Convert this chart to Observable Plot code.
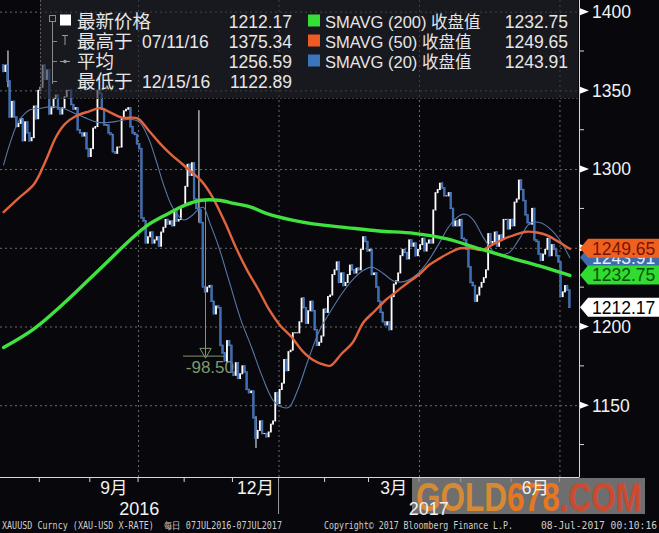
<!DOCTYPE html>
<html><head><meta charset="utf-8">
<script src="https://cdn.jsdelivr.net/npm/d3@7"></script>
<script src="https://cdn.jsdelivr.net/npm/@observablehq/plot@0.6"></script>
<style>
html,body{margin:0;padding:0;background:#07070c;}
#chart{width:659px;height:533px;overflow:hidden;}
</style></head>
<body><div id="chart"></div>
<script>
// ---------- DATA ----------
const startDate = "2016-07-07";
const endDate = "2017-07-07";
const holidays = ["2016-12-26", "2017-01-02", "2017-04-14"];
const firstOpen = 1366;
const jul2016 = [1362,1366,1356,1333,1343,1333,1327,1329,1332,1318,1330,1323,1318,1320,1340,1332,1350];
const aug2016 = [1352,1366,1357,1363,1335,1339,1345,1347,1338,1335,1339,1346,1350,1350,1341,1338,1339,1325,1323,1321,1323,1313,1308];
const sep2016 = [1313,1326,1327,1350,1348,1338,1328,1328,1323,1322,1311,1310,1314,1314,1332,1337,1338,1339,1327,1323,1322,1316];
const oct2016 = [1313,1269,1267,1253,1257,1260,1253,1255,1257,1251,1260,1263,1268,1265,1267,1264,1274,1267,1268,1276,1277];
const nov2016 = [1289,1303,1296,1304,1281,1275,1274,1266,1225,1222,1225,1226,1216,1208,1213,1212,1188,1183,1178,1191,1188,1171];
const dec2016 = [1169,1177,1167,1170,1175,1171,1160,1158,1159,1142,1129,1134,1140,1132,1132,1130,1133,1138,1140,1158,1151];
const jan2017 = [1160,1164,1179,1172,1184,1185,1196,1196,1196,1203,1218,1212,1202,1210,1216,1210,1198,1188,1190,1194,1211];
const feb2017 = [1209,1219,1220,1233,1236,1241,1228,1234,1226,1228,1233,1239,1236,1234,1237,1236,1249,1257,1254,1248];
const mar2017 = [1249,1233,1234,1225,1216,1209,1203,1201,1203,1198,1219,1227,1229,1234,1245,1249,1247,1243,1255,1251,1253,1245,1249];
const apr2017 = [1252,1256,1248,1253,1255,1253,1274,1285,1287,1291,1288,1283,1283,1285,1275,1264,1267,1264,1268];
const may2017 = [1256,1255,1249,1238,1228,1226,1216,1220,1225,1228,1231,1236,1259,1253,1254,1260,1251,1258,1256,1268,1268,1262,1268];
const jun2017 = [1264,1279,1281,1293,1287,1280,1271,1266,1265,1275,1255,1254,1246,1242,1246,1249,1256,1245,1252,1249,1245,1241];
const jul2017 = [1219,1222,1226,1223,1212.17];

const wicks = [
  {date: "2016-07-11", high: 1375.34, low: 1352},
  {date: "2016-11-09", high: 1337.4, low: 1266},
  {date: "2016-12-15", high: 1143, low: 1122.89}
];

const sma200 = [["2016-07-07",1187],["2016-07-27",1199],["2016-08-17",1217],["2016-09-07",1237],["2016-09-28",1257],["2016-10-07",1265],["2016-10-20",1272],["2016-10-31",1277],["2016-11-10",1280.5],["2016-11-22",1280.5],["2016-12-01",1278.5],["2016-12-13",1276],["2016-12-22",1272],["2017-01-10",1268],["2017-01-24",1265.5],["2017-02-15",1263],["2017-03-07",1261],["2017-03-29",1259.5],["2017-04-20",1256],["2017-05-11",1249.6],["2017-06-01",1243.5],["2017-06-21",1238],["2017-07-07",1232.75]];
const sma50 = [["2016-07-07",1273],["2016-07-18",1282],["2016-07-27",1291],["2016-08-03",1305],["2016-08-10",1321],["2016-08-16",1329],["2016-08-23",1334],["2016-08-31",1337],["2016-09-07",1339],["2016-09-14",1336],["2016-09-21",1333],["2016-09-30",1332.5],["2016-10-07",1325],["2016-10-14",1317],["2016-10-21",1310],["2016-10-28",1304],["2016-11-04",1298],["2016-11-10",1293],["2016-11-17",1283],["2016-11-25",1266],["2016-12-02",1250],["2016-12-09",1236],["2016-12-16",1224],["2016-12-23",1211],["2017-01-03",1201],["2017-01-10",1194],["2017-01-17",1185],["2017-01-24",1179],["2017-01-31",1176],["2017-02-03",1175.5],["2017-02-10",1183],["2017-02-17",1190],["2017-02-24",1203],["2017-03-03",1210],["2017-03-10",1217],["2017-03-17",1222.5],["2017-03-24",1228],["2017-03-31",1233],["2017-04-07",1239.5],["2017-04-13",1243],["2017-04-21",1247],["2017-04-28",1250],["2017-05-05",1250],["2017-05-12",1249],["2017-05-19",1252.5],["2017-05-26",1256],["2017-06-02",1258.5],["2017-06-09",1260.5],["2017-06-16",1260],["2017-06-23",1258],["2017-06-30",1254],["2017-07-07",1249.65]];
const sma20 = [["2016-07-07",1303],["2016-07-12",1317],["2016-07-18",1331],["2016-07-25",1338],["2016-08-01",1339],["2016-08-08",1340],["2016-08-15",1339],["2016-08-22",1336],["2016-08-29",1333],["2016-09-06",1330],["2016-09-13",1330],["2016-09-20",1331],["2016-09-27",1332],["2016-10-03",1330],["2016-10-07",1320],["2016-10-12",1308],["2016-10-18",1290],["2016-10-24",1276],["2016-10-31",1268],["2016-11-04",1271],["2016-11-09",1275],["2016-11-11",1276],["2016-11-16",1266],["2016-11-22",1251],["2016-11-29",1228],["2016-12-06",1205],["2016-12-13",1187],["2016-12-20",1168],["2016-12-28",1153],["2017-01-04",1149],["2017-01-09",1149],["2017-01-13",1160],["2017-01-20",1180],["2017-01-27",1198],["2017-02-03",1210],["2017-02-10",1221],["2017-02-17",1230],["2017-02-24",1236],["2017-03-02",1238],["2017-03-09",1234],["2017-03-16",1229],["2017-03-23",1229],["2017-03-30",1233],["2017-04-06",1241],["2017-04-13",1252],["2017-04-21",1264],["2017-04-28",1271],["2017-05-03",1271.5],["2017-05-08",1268],["2017-05-15",1256],["2017-05-22",1247],["2017-05-30",1247],["2017-06-06",1256],["2017-06-13",1266],["2017-06-20",1266],["2017-06-27",1261],["2017-07-03",1254],["2017-07-07",1243.91]];

const measure = {date: "2016-11-14", from: 1280, to: 1181.5, spanStart: "2016-10-31", spanEnd: "2016-11-28", textDate: "2016-11-01"};

const yTicks = [1150, 1200, 1250, 1300, 1350, 1400];
const yMinorTicks = [1125, 1175, 1225, 1275, 1325, 1375];
const gridLevels = [1150, 1200, 1250, 1300, 1350, 1400];
const quarterMonths = ["2016-10", "2017-01", "2017-04", "2017-07"];
const labelMonths = ["2016-09", "2016-12", "2017-03", "2017-06"];
const monthLabels = ["9月", "12月", "3月", "6月"];
const yearLabels = ["2016", "2017"];

const statLabels = ["最新价格", "最高于", "平均", "最低于"];
const statDates = ["", "07/11/16", "", "12/15/16"];
const statValues = ["1212.17", "1375.34", "1256.59", "1122.89"];
const maLabels = ["SMAVG (200) 收盘值", "SMAVG (50) 收盘值", "SMAVG (20) 收盘值"];
const maValues = ["1232.75", "1249.65", "1243.91"];
const maColors = ["#35df35", "#ee5a24", "#3b76bd"];

const tagValues = [1243.91, 1249.65, 1232.75, 1212.17];
const tagFills = ["#3a6cae", "#f0601f", "#2fdc2f", "#ffffff"];
const tagTextColors = ["#e8eef8", "#7a1405", "#0b4f0b", "#000000"];

const footerTexts = ["XAUUSD Curncy (XAU-USD X-RATE)  每日 07JUL2016-07JUL2017", "Copyright© 2017 Bloomberg Finance L.P.", "08-Jul-2017 00:10:16"];
const watermark = ["GOLD", "678", ".COM"];

// ---------- BUILD ----------
const fmt = d3.utcFormat("%Y-%m-%d");
const fmtM = d3.utcFormat("%Y-%m");
const days = d3.utcDay.range(new Date(startDate), d3.utcDay.offset(new Date(endDate), 1))
  .filter(d => d.getUTCDay() % 6 !== 0 && !holidays.includes(fmt(d)));
const closes = [].concat(jul2016, aug2016, sep2016, oct2016, nov2016, dec2016, jan2017, feb2017, mar2017, apr2017, may2017, jun2017, jul2017);
const idxOf = new Map(days.map((d, i) => [fmt(d), i]));
const candles = days.map((d, i) => ({i, open: i ? closes[i - 1] : firstOpen, close: closes[i]})).filter(d => d.close != null);
const up = candles.filter(d => d.close >= d.open);
const down = candles.filter(d => d.close < d.open);

const monthFirst = d3.rollup(days.map((d, i) => [fmtM(d), i]), v => d3.min(v, e => e[1]), e => e[0]);
const monthLast = d3.rollup(days.map((d, i) => [fmtM(d), i]), v => d3.max(v, e => e[1]), e => e[0]);
const monthBounds = [...monthFirst.entries()].filter(([m]) => m !== fmtM(new Date(startDate))).map(([m, i]) => i - 0.5);
const quarterBounds = quarterMonths.map(m => monthFirst.get(m) - 0.5);

const ma = arr => arr.map(([d, v]) => ({i: idxOf.get(d), v}));
const font = "'Liberation Sans', 'Noto Sans CJK SC', sans-serif";

const plot = Plot.plot({
  width: 659, height: 533,
  marginTop: 0, marginLeft: 0, marginRight: 80, marginBottom: 56,
  style: {background: "#07070c", fontFamily: font, overflow: "hidden"},
  x: {domain: [-1.41, 262.4], axis: null},
  y: {domain: [1104.4, 1407.4], axis: null},
  marks: [
    Plot.ruleY(gridLevels, {stroke: "#6c6c6c", strokeDasharray: "2,3", strokeWidth: 1}),
    Plot.ruleX(quarterBounds, {stroke: "#6c6c6c", strokeDasharray: "2,3", strokeWidth: 1}),
    Plot.ruleX([measure], {x: d => idxOf.get(d.date), y1: "from", y2: "to", stroke: "#7f9a6c", strokeWidth: 1}),
    Plot.ruleY([measure], {y: "to", x1: d => idxOf.get(d.spanStart), x2: d => idxOf.get(d.spanEnd), stroke: "#7f9a6c", strokeWidth: 1}),
    Plot.dot([measure], {x: d => idxOf.get(d.date), y: "to", symbol: "triangle", rotate: 180, r: 4.2, dy: -4.5, stroke: "#7f9a6c", fill: "none", strokeWidth: 1}),
    Plot.text([measure], {x: d => idxOf.get(d.textDate), y: "to", text: d => (d.to - d.from).toFixed(2), textAnchor: "start", dy: 11, fill: "#7f9a6c", fontSize: 17}),
    Plot.ruleX(wicks, {x: d => idxOf.get(d.date), y1: "low", y2: "high", stroke: "#ffffff", strokeWidth: 1}),
    Plot.rect(down, {x1: d => d.i - 0.42, x2: d => d.i + 0.42, y1: "open", y2: "close", fill: "#3c6db4", stroke: "#5f8fd6", strokeWidth: 0.4, insetTop: -0.5, insetBottom: -0.5}),
    Plot.rect(up, {x1: d => d.i - 0.42, x2: d => d.i + 0.42, y1: "open", y2: "close", fill: "#ffffff", insetTop: -0.5, insetBottom: -0.5}),
    Plot.line(ma(sma20), {x: "i", y: "v", stroke: "#5878a4", strokeWidth: 1.1, curve: "catmull-rom"}),
    Plot.line(ma(sma50), {x: "i", y: "v", stroke: "#e2643f", strokeWidth: 2.4, curve: "catmull-rom"}),
    Plot.line(ma(sma200), {x: "i", y: "v", stroke: "#3fe23f", strokeWidth: 3.4, curve: "catmull-rom"})
  ]
});

document.getElementById("chart").appendChild(plot);

// ---------- DECORATIONS (using the plot's scales) ----------
const sx = plot.scale("x"), sy = plot.scale("y");
const X = v => sx.apply(v), Y = v => sy.apply(v);
const [xL, xR] = sx.range;
const yB = sy.range[0];
const svg = d3.select(plot);

// legend overlay
const lg = svg.append("g").attr("font-family", font).attr("text-anchor", "start");
lg.append("rect").attr("x", 40).attr("y", -1).attr("width", 538).attr("height", 99)
  .attr("fill", "#24242c").attr("fill-opacity", 0.62);
lg.append("line").attr("x1", 40.5).attr("x2", 40.5).attr("y1", 0).attr("y2", 98).attr("stroke", "#5a5a5a").attr("stroke-dasharray", "2,2");
lg.append("line").attr("x1", 40).attr("x2", 578).attr("y1", 98.5).attr("y2", 98.5).attr("stroke", "#3a3a3a").attr("stroke-dasharray", "2,2");
lg.append("rect").attr("x", 49.5).attr("y", 15.5).attr("width", 6).attr("height", 6).attr("fill", "none").attr("stroke", "#8a8a8a");
lg.append("line").attr("x1", 52.5).attr("x2", 52.5).attr("y1", 21.5).attr("y2", 84).attr("stroke", "#8a8a8a");
[41, 61, 81].forEach(yy => lg.append("line").attr("x1", 52.5).attr("x2", 57).attr("y1", yy + 0.5).attr("y2", yy + 0.5).attr("stroke", "#8a8a8a"));
lg.append("rect").attr("x", 60).attr("y", 14.5).attr("width", 11).attr("height", 11).attr("fill", "#ffffff");
lg.append("line").attr("x1", 62).attr("x2", 68).attr("y1", 35.5).attr("y2", 35.5).attr("stroke", "#9a9a9a");
lg.append("line").attr("x1", 65).attr("x2", 65).attr("y1", 35.5).attr("y2", 45).attr("stroke", "#9a9a9a");
lg.append("line").attr("x1", 60).attr("x2", 70).attr("y1", 61.5).attr("y2", 61.5).attr("stroke", "#9a9a9a");
lg.append("circle").attr("cx", 65).attr("cy", 61.5).attr("r", 1.8).attr("fill", "#9a9a9a");
statLabels.forEach((t, k) => {
  const base = 27.5 + 20 * k;
  lg.append("text").attr("x", 77).attr("y", base).attr("fill", "#e6e6e6").attr("font-size", 18.5).text(t);
  if (statDates[k]) lg.append("text").attr("x", 142).attr("y", base).attr("fill", "#e6e6e6").attr("font-size", 17.5).text(statDates[k]);
  lg.append("text").attr("x", 292).attr("y", base).attr("text-anchor", "end").attr("fill", "#e6e6e6").attr("font-size", 17.5).text(statValues[k]);
});
maLabels.forEach((t, k) => {
  const base = 27.5 + 20 * k;
  lg.append("rect").attr("x", 308).attr("y", base - 13).attr("width", 12).attr("height", 12).attr("fill", maColors[k]);
  lg.append("text").attr("x", 325).attr("y", base).attr("fill", "#e6e6e6").attr("font-size", 16.5).text(t);
  lg.append("text").attr("x", 568).attr("y", base).attr("text-anchor", "end").attr("fill", "#e6e6e6").attr("font-size", 17.5).text(maValues[k]);
});

// axes
const ax = svg.append("g").attr("font-family", font).attr("text-anchor", "start");
ax.append("line").attr("x1", xR + 0.5).attr("x2", xR + 0.5).attr("y1", 0).attr("y2", yB).attr("stroke", "#d8d8d8");
ax.append("line").attr("x1", xL).attr("x2", xR + 0.5).attr("y1", yB + 0.5).attr("y2", yB + 0.5).attr("stroke", "#d8d8d8");
yTicks.forEach(v => {
  const yy = Y(v);
  ax.append("path").attr("d", `M${xR + 1},${yy - 3.5}L${xR + 10},${yy}L${xR + 1},${yy + 3.5}Z`).attr("fill", "#ffffff");
  ax.append("text").attr("x", xR + 13).attr("y", yy).attr("dy", "0.36em").attr("fill", "#f2f2f2").attr("font-size", 17.5).text(v);
});
yMinorTicks.forEach(v => {
  ax.append("line").attr("x1", xR).attr("x2", xR + 5).attr("y1", Y(v)).attr("y2", Y(v)).attr("stroke", "#d8d8d8");
});
monthBounds.forEach(i => {
  ax.append("line").attr("x1", X(i)).attr("x2", X(i)).attr("y1", yB).attr("y2", yB + 5).attr("stroke", "#d8d8d8");
});
const janB = X(quarterBounds[1]);
ax.append("line").attr("x1", janB).attr("x2", janB).attr("y1", yB + 1).attr("y2", yB + 37).attr("stroke", "#9a9a9a");

// watermark (under labels)
const wm = svg.append("g").attr("text-anchor", "start");
wm.append("rect").attr("x", 412).attr("y", 478).attr("width", 233).attr("height", 36).attr("fill", "#8c8c8c").attr("fill-opacity", 0.78);
const wmt = wm.append("text").attr("x", 416).attr("y", 511).attr("font-family", "'Liberation Sans Narrow', 'Liberation Sans', sans-serif")
  .attr("font-weight", "bold").attr("font-size", 40).attr("textLength", 226).attr("lengthAdjust", "spacingAndGlyphs");
wmt.append("tspan").attr("fill", "#d68a36").text(watermark[0]);
wmt.append("tspan").attr("fill", "#e8761e").text(watermark[1]);
wmt.append("tspan").attr("fill", "#cc4a30").text(watermark[2]);

const lab = svg.append("g").attr("font-family", font).attr("text-anchor", "middle");
labelMonths.forEach((m, k) => {
  const cx = (X(monthFirst.get(m) - 0.5) + X(monthLast.get(m) + 0.5)) / 2;
  lab.append("text").attr("x", cx).attr("y", 494).attr("fill", "#f2f2f2").attr("font-size", 17.5).text(monthLabels[k]);
});
const yearCenters = [(xL + janB) / 2, (janB + xR) / 2];
yearLabels.forEach((t, k) => {
  lab.append("text").attr("x", yearCenters[k]).attr("y", 515).attr("fill", "#f2f2f2").attr("font-size", 18).text(t);
});

// price tags
const tg = svg.append("g").attr("font-family", font).attr("text-anchor", "start");
tagValues.forEach((v, k) => {
  const yy = Y(v);
  tg.append("path").attr("d", `M${xR + 1},${yy}L${xR + 9},${yy - 9.5}L659,${yy - 9.5}L659,${yy + 9.5}L${xR + 9},${yy + 9.5}Z`)
    .attr("fill", tagFills[k]);
  tg.append("text").attr("x", xR + 13).attr("y", yy).attr("dy", "0.36em").attr("fill", tagTextColors[k]).attr("font-size", 17.5).text(v.toFixed(2));
});

// footer
const ft = svg.append("g").attr("font-family", "'DejaVu Sans Mono', 'Liberation Mono', monospace").attr("font-size", 10).attr("fill", "#cfcfcf").attr("text-anchor", "start");
ft.append("text").attr("x", 2).attr("y", 529).attr("textLength", 280).attr("lengthAdjust", "spacingAndGlyphs").text(footerTexts[0]);
ft.append("text").attr("x", 324).attr("y", 529).attr("textLength", 189).attr("lengthAdjust", "spacingAndGlyphs").text(footerTexts[1]);
ft.append("text").attr("x", 541).attr("y", 529).attr("textLength", 116).attr("lengthAdjust", "spacingAndGlyphs").text(footerTexts[2]);
</script>
</body></html>
